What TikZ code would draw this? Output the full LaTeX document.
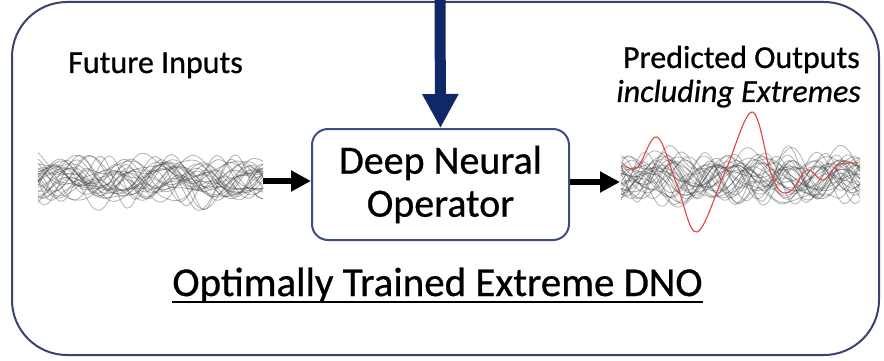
\documentclass[tikz,border=0pt]{standalone}
\usepackage{fontspec}
\setmainfont{Carlito}[RawFeature={embolden=0.7}]
\usetikzlibrary{arrows.meta}
\definecolor{frameblue}{RGB}{58,66,112}
\definecolor{boxblue}{RGB}{62,76,128}
\definecolor{navyarrow}{RGB}{16,40,104}
\definecolor{extremered}{RGB}{222,70,70}
\tikzset{
  frame/.style={draw=frameblue, line width=2pt, rounded corners=55pt},
  dnobox/.style={draw=boxblue, line width=2pt, rounded corners=16pt, fill=white,
    minimum width=257pt, minimum height=111pt, align=center, inner sep=0pt,
    font=\fontsize{40}{43}\selectfont},
  label/.style={inner sep=0pt, font=\fontsize{32}{36}\selectfont},
  wave/.style={draw=black!75, line width=0.8pt, opacity=0.4},
  flow/.style={line width=6pt, -{Triangle[length=20pt,width=20pt]}},
  feed/.style={draw=navyarrow, line width=11pt, -{Triangle[length=34pt,width=34pt]}},
}
\begin{document}
\begin{tikzpicture}[x=1pt,y=-1pt]
\useasboundingbox (0,0) rectangle (884,361);
\fill[white] (0,0) rectangle (884,361);

% outer frame
\draw[frame] (12,2) rectangle (879,355);

% input signal bundle
\pgfmathsetseed{7}
\foreach \i in {1,...,30}{
  \pgfmathsetmacro\aA{5+16*rnd}
  \pgfmathsetmacro\aB{2+7*rnd}
  \pgfmathsetmacro\fA{3+3*rnd}
  \pgfmathsetmacro\fB{6+4*rnd}
  \pgfmathsetmacro\pA{360*rnd}
  \pgfmathsetmacro\pB{360*rnd}
  \pgfmathsetmacro\yo{-7+14*rnd}
  \draw[wave] plot[smooth, domain=38:263, samples=45]
    (\x, {179+\yo+\aA*sin(\fA*\x+\pA)+\aB*sin(\fB*\x+\pB)});
}

% output signal bundle
\pgfmathsetseed{19}
\foreach \i in {1,...,30}{
  \pgfmathsetmacro\aA{5+16*rnd}
  \pgfmathsetmacro\aB{2+7*rnd}
  \pgfmathsetmacro\fA{3+3*rnd}
  \pgfmathsetmacro\fB{6+4*rnd}
  \pgfmathsetmacro\pA{360*rnd}
  \pgfmathsetmacro\pB{360*rnd}
  \pgfmathsetmacro\yo{-7+14*rnd}
  \draw[wave] plot[smooth, domain=621:860, samples=45]
    (\x, {178+\yo+\aA*sin(\fA*\x+\pA)+\aB*sin(\fB*\x+\pB)});
}

% extreme event in the predicted outputs
\draw[extremered, line width=1.1pt] plot[smooth, tension=0.6] coordinates {
  (622,163) (637,168) (657,137) (677,185) (697,232) (725,172) (752,112)
  (770,170) (780,191) (792,190) (807,170) (823,180) (838,165) (858,163)};

% operator block
\node[dnobox] (dno) at (440.5,184.5) {Deep Neural\\Operator};

% connectors
\coordinate (inR) at (263,181);
\coordinate (outL) at (620,182);
\coordinate (src) at (440,-6);
\draw[flow] (inR) -- (dno.west |- inR);
\draw[flow] (dno.east |- outL) -- (outL);
\draw[feed] (src) -- (dno.north);

% labels
\node[label, anchor=base west] (fin) at (68,73) {Future Inputs};
\node[label, anchor=base east] (pout) at (860,68) {Predicted Outputs};
\node[label, anchor=base east] (pext) at (861,102) {\itshape including Extremes};

% title
\node[inner sep=0pt, anchor=base, font=\fontsize{41}{46}\selectfont] (title) at (437.5,296) {Optimally Trained Extreme DNO};
\draw[line width=2.6pt] ([yshift=-6pt]title.base west) -- ([yshift=-6pt]title.base east);
\end{tikzpicture}
\end{document}
